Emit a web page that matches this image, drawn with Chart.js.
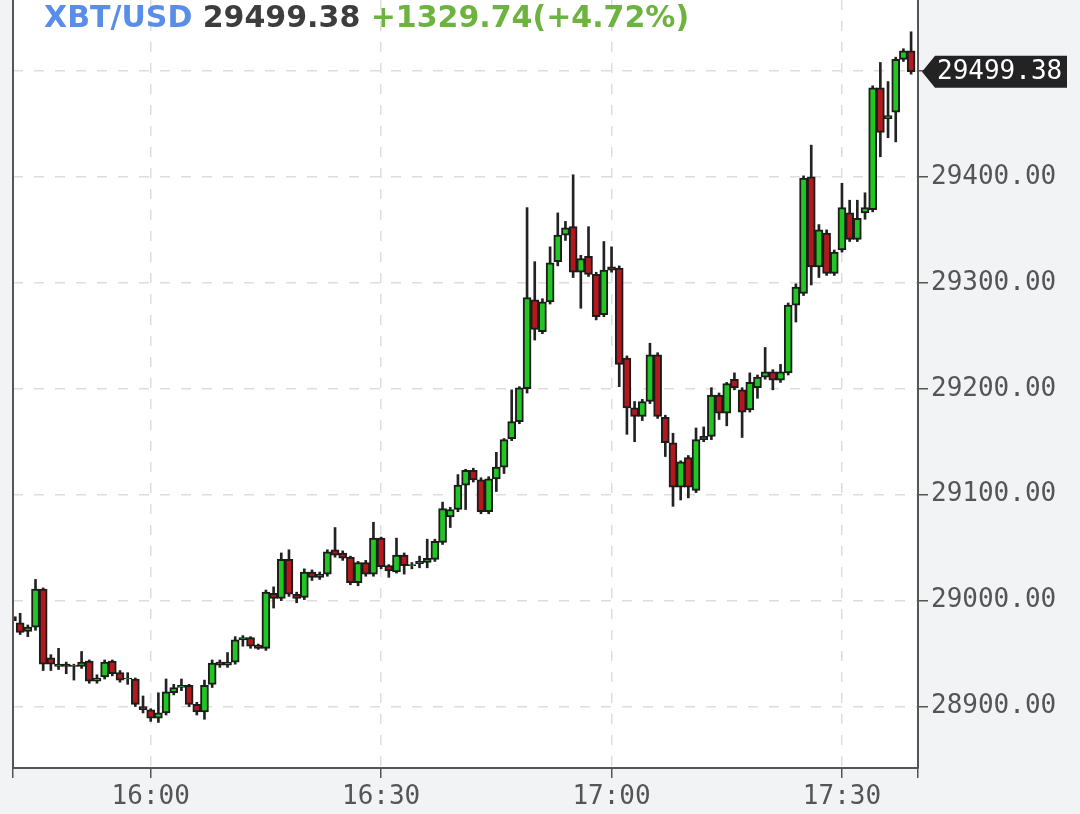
<!DOCTYPE html>
<html>
<head>
<meta charset="utf-8">
<script src="https://cdn.jsdelivr.net/npm/chart.js@4.4.0/dist/chart.umd.min.js"></script>
<style>
html, body { margin: 0; padding: 0; background: #f2f3f5; }
#wrap { position: relative; width: 1080px; height: 814px; }
#head { position: absolute; left: 44px; top: 0; font: bold 30px "DejaVu Sans"; line-height: 34px; white-space: pre; }
</style>
</head>
<body>
<div id="wrap">
<canvas id="chart" width="1080" height="814"></canvas>
<div id="head"><span style="color:#5a8de8">XBT/USD</span> <span style="color:#3d3d3d">29499.38</span> <span style="color:#6db33f">+1329.74(+4.72%)</span></div>
</div>
<script>
// 1 minute candles, 15:42 .. 17:39
const times = [
  "15:42","15:43","15:44","15:45","15:46","15:47","15:48","15:49","15:50","15:51",
  "15:52","15:53","15:54","15:55","15:56","15:57","15:58","15:59","16:00","16:01",
  "16:02","16:03","16:04","16:05","16:06","16:07","16:08","16:09","16:10","16:11",
  "16:12","16:13","16:14","16:15","16:16","16:17","16:18","16:19","16:20","16:21",
  "16:22","16:23","16:24","16:25","16:26","16:27","16:28","16:29","16:30","16:31",
  "16:32","16:33","16:34","16:35","16:36","16:37","16:38","16:39","16:40","16:41",
  "16:42","16:43","16:44","16:45","16:46","16:47","16:48","16:49","16:50","16:51",
  "16:52","16:53","16:54","16:55","16:56","16:57","16:58","16:59","17:00","17:01",
  "17:02","17:03","17:04","17:05","17:06","17:07","17:08","17:09","17:10","17:11",
  "17:12","17:13","17:14","17:15","17:16","17:17","17:18","17:19","17:20","17:21",
  "17:22","17:23","17:24","17:25","17:26","17:27","17:28","17:29","17:30","17:31",
  "17:32","17:33","17:34","17:35","17:36","17:37","17:38","17:39"
];

const open = [
  28985,28979,28971,28975,29011,28946,28938,28940,28938,28938,
  28943,28924,28928,28943,28932,28926,28926,28900,28897,28889,
  28894,28913,28918,28920,28902,28895,28921,28942,28939,28942,
  28963,28965,28958,28955,29007,29002,29039,29006,29003,29027,
  29022,29025,29048,29045,29041,29017,29036,29025,29059,29033,
  29027,29043,29033,29035,29036,29039,29055,29079,29086,29109,
  29123,29114,29084,29115,29126,29153,29169,29200,29284,29254,
  29282,29320,29345,29353,29310,29325,29308,29270,29315,29314,
  29229,29182,29174,29188,29232,29173,29149,29107,29135,29104,
  29152,29155,29194,29177,29209,29199,29180,29201,29211,29216,
  29208,29215,29279,29290,29400,29315,29347,29309,29331,29366,
  29341,29366,29369,29484,29455,29461,29511,29519
];
const high = [
  28992,28988,28977,29020,29012,28949,28955,28942,28940,28952,
  28944,28930,28944,28944,28934,28932,28927,28910,28898,28913,
  28926,28921,28926,28921,28904,28925,28944,28944,28951,28966,
  28967,28966,28959,29010,29013,29045,29048,29008,29030,29029,
  29027,29048,29069,29047,29042,29037,29038,29074,29060,29034,
  29059,29045,29036,29042,29058,29058,29093,29088,29119,29124,
  29125,29116,29117,29140,29153,29199,29202,29371,29320,29285,
  29334,29366,29358,29402,29326,29353,29310,29339,29334,29316,
  29231,29188,29190,29243,29234,29175,29158,29132,29137,29163,
  29164,29201,29196,29206,29215,29201,29215,29213,29239,29218,
  29223,29281,29299,29401,29430,29355,29350,29331,29394,29378,
  29378,29385,29486,29508,29490,29513,29521,29537
];
const low = [
  28979,28968,28966,28972,28934,28934,28935,28931,28925,28936,
  28922,28922,28926,28929,28923,28921,28900,28894,28886,28885,
  28892,28911,28915,28900,28892,28888,28918,28937,28937,28940,
  28957,28955,28954,28953,28993,29000,29004,28998,29001,29019,
  29020,29023,29041,29038,29015,29014,29023,29023,29030,29022,
  29026,29025,29030,29031,29031,29037,29053,29069,29084,29086,
  29112,29082,29082,29103,29120,29151,29167,29196,29246,29252,
  29280,29316,29340,29305,29276,29306,29265,29268,29310,29202,
  29157,29150,29170,29186,29172,29136,29089,29095,29097,29102,
  29150,29152,29171,29165,29199,29154,29178,29191,29209,29199,
  29206,29213,29263,29288,29298,29305,29307,29307,29329,29339,
  29339,29360,29367,29419,29437,29433,29509,29497
];
const close = [
  28981,28970,28975,29011,28940,28940,28940,28938,28939,28942,
  28924,28927,28942,28931,28925,28927,28902,28897,28889,28894,
  28914,28918,28920,28902,28895,28920,28941,28939,28942,28963,
  28965,28957,28955,29008,29002,29039,29006,29002,29027,29022,
  29025,29046,29043,29040,29017,29036,29025,29059,29032,29028,
  29043,29033,29034,29037,29040,29056,29087,29086,29109,29123,
  29114,29084,29115,29126,29152,29169,29201,29286,29256,29282,
  29319,29345,29352,29310,29323,29308,29268,29312,29312,29223,
  29182,29174,29188,29232,29174,29149,29107,29131,29107,29152,
  29155,29194,29177,29205,29201,29178,29206,29211,29216,29208,
  29216,29279,29296,29399,29315,29350,29309,29329,29371,29341,
  29361,29371,29484,29442,29458,29511,29519,29499.38
];

const xTickLabels = ["16:00", "16:30", "17:00", "17:30"];
const yTicks = [28900, 29000, 29100, 29200, 29300, 29400, 29500];
const lastPrice = 29499.38;

function toMin(s) {
  const p = s.split(":");
  return (+p[0] - 16) * 60 + (+p[1]);
}
function toLabel(m) {
  const t = 16 * 60 + m;
  return Math.floor(t / 60) + ":" + String(t % 60).padStart(2, "0");
}

const xs = times.map(toMin);
const xTickValues = xTickLabels.map(toMin);
const X_MIN = -17.93, X_MAX = 99.9;

const wicks = xs.map((x, i) => ({ x: x, y: [low[i], high[i]] }));
const bodies = xs.map((x, i) => ({ x: x, y: [Math.min(open[i], close[i]), Math.max(open[i], close[i])] }));
const bodyColors = xs.map((x, i) => close[i] >= open[i] ? "#22c622" : "#b3191c");

const frame = {
  id: "frame",
  beforeDraw(chart) {
    const { ctx, chartArea: a } = chart;
    ctx.save();
    ctx.fillStyle = "#f2f3f5";
    ctx.fillRect(0, 0, chart.width, chart.height);
    ctx.fillStyle = "#ffffff";
    ctx.fillRect(a.left, a.top, a.right - a.left, a.bottom - a.top);
    ctx.restore();
  },
  afterDraw(chart) {
    const { ctx, chartArea: a } = chart;
    ctx.save();
    ctx.strokeStyle = "#555";
    ctx.lineWidth = 2;
    ctx.beginPath();
    ctx.moveTo(a.left, 0);
    ctx.lineTo(a.left, a.bottom);
    ctx.stroke();

    // last price marker
    const y = chart.scales.y.getPixelForValue(lastPrice);
    const x0 = a.right + 4;
    ctx.fillStyle = "#232323";
    ctx.beginPath();
    ctx.moveTo(x0, y);
    ctx.lineTo(x0 + 13, y - 16);
    ctx.lineTo(1067, y - 16);
    ctx.lineTo(1067, y + 16);
    ctx.lineTo(x0 + 13, y + 16);
    ctx.closePath();
    ctx.fill();
    ctx.fillStyle = "#ffffff";
    ctx.font = "26px 'DejaVu Sans Mono'";
    ctx.textBaseline = "middle";
    ctx.fillText(lastPrice.toFixed(2), x0 + 15, y + 1);
    ctx.restore();
  }
};

new Chart(document.getElementById("chart"), {
  type: "bar",
  data: {
    datasets: [{
      label: "body",
      data: bodies,
      backgroundColor: bodyColors,
      borderColor: "#1c1c1c",
      borderWidth: 2,
      borderSkipped: false,
      barThickness: 8,
      grouped: false,
      order: 1
    }, {
      label: "wick",
      data: wicks,
      backgroundColor: "#222",
      borderWidth: 0,
      barThickness: 2,
      grouped: false,
      order: 2
    }]
  },
  options: {
    responsive: false,
    animation: false,
    layout: { padding: { left: 13, right: 0, top: 0, bottom: 0 } },
    plugins: { legend: { display: false }, tooltip: { enabled: false } },
    scales: {
      x: {
        type: "linear",
        offset: false,
        min: X_MIN,
        max: X_MAX,
        afterBuildTicks: s => { s.ticks = [X_MIN].concat(xTickValues, [X_MAX]).map(v => ({ value: v })); },
        afterFit: s => { s.height = 46; s.paddingLeft = 0; s.paddingRight = 0; },
        grid: {
          offset: false,
          color: c => (c.tick && xTickValues.includes(c.tick.value)) ? "#dddddd" : "rgba(0,0,0,0)",
          lineWidth: 1.5,
          tickColor: "#555",
          tickLength: 10,
          tickWidth: 1.5
        },
        border: { display: true, color: "#555", width: 2, dash: [10, 11] },
        ticks: {
          autoSkip: false,
          maxRotation: 0,
          padding: 4,
          color: "#555",
          font: { family: "DejaVu Sans Mono", size: 26 },
          callback: v => xTickValues.includes(v) ? toLabel(v) : ""
        }
      },
      y: {
        position: "right",
        min: 28842,
        max: 29567,
        afterBuildTicks: s => { s.ticks = yTicks.map(v => ({ value: v })); },
        afterFit: s => { s.width = 162; s.paddingTop = 0; s.paddingBottom = 0; },
        grid: {
          color: "#dddddd",
          lineWidth: 1.5,
          tickColor: "#555",
          tickLength: 10,
          tickWidth: 1.5
        },
        border: { display: true, color: "#555", width: 2, dash: [10, 11] },
        ticks: {
          padding: 3,
          color: "#555",
          font: { family: "DejaVu Sans Mono", size: 26 },
          callback: v => Number(v).toFixed(2)
        }
      }
    }
  },
  plugins: [frame]
});
</script>
</body>
</html>
